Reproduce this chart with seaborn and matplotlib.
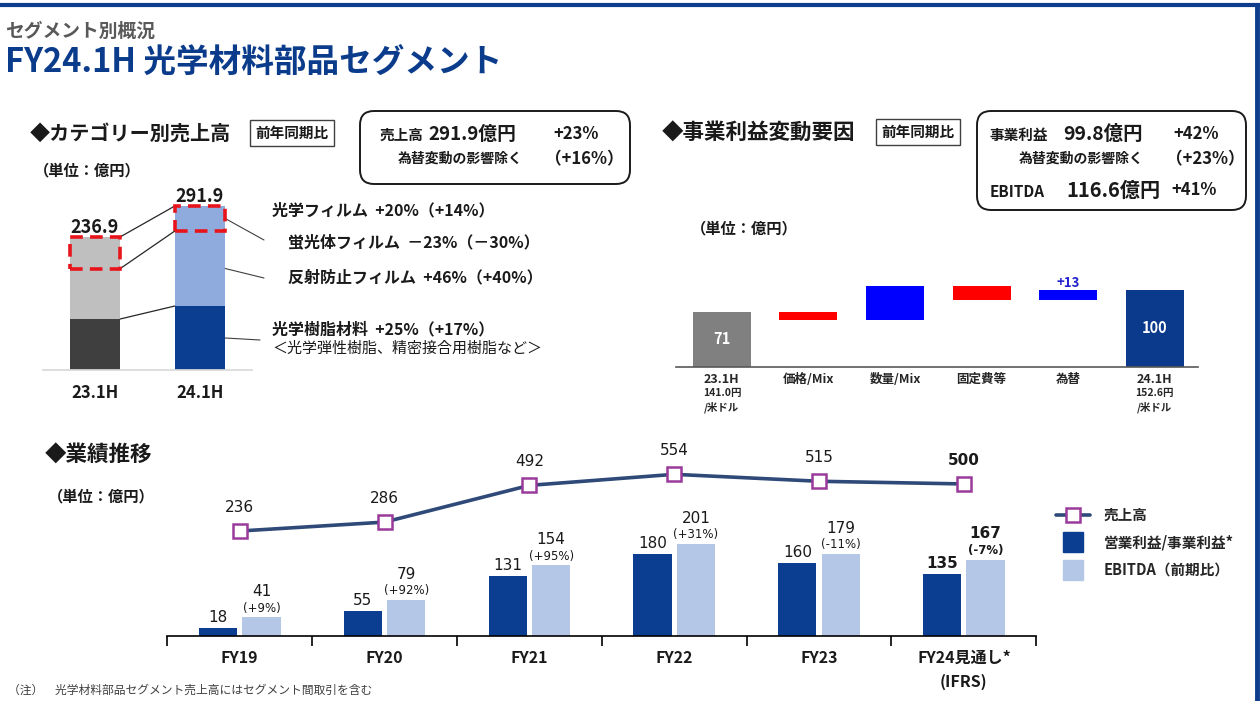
import numpy as np
import pandas as pd
import matplotlib.pyplot as plt
import seaborn as sns
from matplotlib.patches import Rectangle, FancyBboxPatch
from matplotlib.lines import Line2D
from matplotlib.transforms import IdentityTransform

# カテゴリー別売上高
cat_periods = ['23.1H', '24.1H']
cat_total = [236.9, 291.9]
cat_resin = [90.8, 113.9]
cat_phosphor = [56.4, 44.5]

# 事業利益変動要因
wf_labels = ['23.1H', '価格/Mix', '数量/Mix', '固定費等', '為替', '24.1H']
wf_values = [71, -10, 44, -18, 13, 100]
wf_notes = ['141.0円\n/米ドル', '', '', '', '', '152.6円\n/米ドル']

# 業績推移
years = ['FY19', 'FY20', 'FY21', 'FY22', 'FY23', 'FY24見通し*\n(IFRS)']
sales = [236, 286, 492, 554, 515, 500]
op_profit = [18, 55, 131, 180, 160, 135]
ebitda = [41, 79, 154, 201, 179, 167]
ebitda_yoy = ['(+9%)', '(+92%)', '(+95%)', '(+31%)', '(-11%)', '(-7%)']

NAVY = '#0b3d91'
W, H = 1260, 701

sns.set_theme(style='white')
plt.rcParams['font.family'] = ['Noto Sans CJK JP', 'DejaVu Sans']
plt.rcParams['axes.unicode_minus'] = False

fig = plt.figure(figsize=(W / 100, H / 100), dpi=100)


def px_axes(left, top, right, bottom):
    return fig.add_axes([left / W, 1 - bottom / H, (right - left) / W, (bottom - top) / H])


def label(x, y, s, size, weight='bold', color='#1a1a1a', ha='left', **kw):
    return fig.text(x / W, 1 - y / H, s, fontsize=size, fontweight=weight,
                    color=color, ha=ha, va='center', **kw)


def rbox(x0, y0, x1, y1):
    fig.add_artist(FancyBboxPatch((x0, H - y1), x1 - x0, y1 - y0,
                                  boxstyle='round,pad=0,rounding_size=14',
                                  fc='none', ec='#1a1a1a', lw=1.4,
                                  transform=IdentityTransform()))


# ---- page frame / titles
fig.add_artist(Line2D([0, 1], [1 - 5 / H] * 2, color='#0d3d8c', lw=3, transform=fig.transFigure))
fig.add_artist(Line2D([1 - 3 / W] * 2, [0, 1 - 5 / H], color='#0d3d8c', lw=3.5, transform=fig.transFigure))
label(5, 31, 'セグメント別概況', 13.5, color='#595959')
label(5, 63, 'FY24.1H 光学材料部品セグメント', 23.5, color='#0b3c8c')

box_kw = dict(boxstyle='square,pad=0.35', fc='white', ec='#404040', lw=1.0)

# ---- chart 1: stacked bars
label(30, 133, '◆カテゴリー別売上高', 14.5)
label(292, 133, '前年同期比', 10.5, ha='center', bbox=box_kw)
label(34, 170, '（単位：億円）', 11)

rbox(360, 111, 630, 184)
label(380, 135, '売上高', 10.5)
label(428, 134, '291.9億円', 13.5)
label(553, 134, '+23%', 12)
label(398, 159, '為替変動の影響除く', 10)
label(545, 159, '（+16%）', 12)

ax1 = px_axes(42.5, 170, 252.5, 370)
df1 = pd.DataFrame({'pos': [0, 1], 'period': cat_periods,
                    'total': cat_total, 'resin': cat_resin})
sns.barplot(data=df1, x='pos', y='total', hue='period', palette=['#bfbfbf', '#8faadc'],
            width=0.48, native_scale=True, dodge=False, orient='x', saturation=1,
            linewidth=0, legend=False, ax=ax1)
sns.barplot(data=df1, x='pos', y='resin', hue='period', palette=['#3f3f3f', NAVY],
            width=0.48, native_scale=True, dodge=False, orient='x', saturation=1,
            linewidth=0, legend=False, ax=ax1)
ax1.set_xlim(-0.5, 1.5)
ax1.set_ylim(0, 200 / 0.5618)
ax1.set_xticks([0, 1], cat_periods, fontsize=12, fontweight='bold', color='#1a1a1a')
ax1.tick_params(axis='x', length=0, pad=10)
ax1.set_yticks([])
ax1.set_xlabel('')
ax1.set_ylabel('')
sns.despine(ax=ax1, left=True)
ax1.spines['bottom'].set_color('#d9d9d9')

tot = np.array(cat_total)
ph = np.array(cat_phosphor)
res = np.array(cat_resin)
for ys in (tot, tot - ph, res):
    ax1.plot([0.24, 0.76], ys, color='#262626', lw=0.9)
for i in range(2):
    ax1.add_patch(Rectangle((i - 0.24, tot[i] - ph[i]), 0.48, ph[i], fill=False,
                            ec='#e8141c', lw=2.6, ls=(0, (3.5, 2)), zorder=5, clip_on=False))
    ax1.annotate(f'{tot[i]:.1f}', (i, tot[i]), xytext=(0, 7), textcoords='offset points',
                 ha='center', va='center', fontsize=13, fontweight='bold', color='#1a1a1a')

leaders = [(tot[1] - ph[1] / 2, (264, 240)),
           ((res[1] + tot[1] - ph[1]) / 2, (264, 278)),
           (res[1] / 2, (260, 340))]
for yv, (tx, ty) in leaders:
    ax1.annotate('', xy=(1.24, yv), xytext=(tx / W, 1 - ty / H), textcoords='figure fraction',
                 arrowprops=dict(arrowstyle='-', color='#404040', lw=0.8,
                                 shrinkA=0, shrinkB=0), annotation_clip=False)

label(272, 210, '光学フィルム  +20%（+14%）', 11.5)
label(288, 242, '蛍光体フィルム  －23%（－30%）', 11.5)
label(288, 277, '反射防止フィルム  +46%（+40%）', 11.5)
label(272, 329, '光学樹脂材料  +25%（+17%）', 11.5)
label(272, 349, '＜光学弾性樹脂、精密接合用樹脂など＞', 10.8, weight='normal')

# ---- chart 2: waterfall
label(662, 133, '◆事業利益変動要因', 15.5)
label(918, 132, '前年同期比', 10.5, ha='center', bbox=box_kw)
label(691, 228, '（単位：億円）', 11)

rbox(977, 111, 1246, 210)
label(990, 135, '事業利益', 10.5)
label(1063, 134, '99.8億円', 14)
label(1173, 134, '+42%', 12)
label(1019, 159, '為替変動の影響除く', 10)
label(1166, 159, '（+23%）', 12)
label(990, 192, 'EBITDA', 11)
label(1066, 190, '116.6億円', 14.5)
label(1171, 190, '+41%', 12)

ax2 = px_axes(676, 230, 1198, 367)
steps = np.array(wf_values, dtype=float)
bottoms = np.r_[0, np.cumsum(steps[:-1])]
bottoms[-1] = 0
xs = np.arange(len(wf_labels))
colors = ['#808080'] + ['#0000ff' if v > 0 else '#ff0000' for v in steps[1:-1]] + ['#0b3a8c']
ax2.bar(xs, steps, bottom=bottoms, width=0.67, color=colors, linewidth=0)
ax2.set_xlim(-0.53, 5.5)
ax2.set_ylim(0, 137 / 0.775)
ax2.set_xticks(xs, wf_labels, fontsize=9, fontweight='bold', color='#262626')
ax2.tick_params(axis='x', length=0, pad=4)
ax2.set_yticks([])
sns.despine(ax=ax2, left=True)
ax2.spines['bottom'].set_color('#595959')
ax2.spines['bottom'].set_linewidth(1.2)
for i, note in enumerate(wf_notes):
    if note:
        ax2.annotate(note, (i, 0), xytext=(0, -15), textcoords='offset points', ha='center',
                     va='top', fontsize=7.5, fontweight='bold', color='#262626', linespacing=1.4)
for i in (0, len(steps) - 1):
    ax2.text(i, steps[i] / 2, f'{steps[i]:.0f}', ha='center', va='center',
             fontsize=10.5, fontweight='bold', color='white')
ax2.annotate(f'+{steps[4]:.0f}', (4, bottoms[4] + steps[4]), xytext=(0, 5),
             textcoords='offset points', ha='center', va='center', fontsize=9.5,
             fontweight='bold', color='#2323d0')

# ---- chart 3: bars + line
label(45, 455, '◆業績推移', 15.5)
label(48, 496, '（単位：億円）', 11)

ax3 = px_axes(167.3, 440, 1036.3, 636)
n = len(years)
df3 = pd.DataFrame({'pos': list(range(n)) * 2,
                    'value': op_profit + ebitda,
                    'kind': ['営業利益/事業利益*'] * n + ['EBITDA（前期比）'] * n})
sns.barplot(data=df3, x='pos', y='value', hue='kind', palette=[NAVY, '#b4c7e7'],
            width=0.6, gap=0.12, native_scale=True, orient='x', linewidth=0,
            saturation=1, legend=False, ax=ax3)
ax3.set_xlim(-0.5, n - 0.5)
ax3.set_ylim(0, 196 / 0.458)
ax3.set_xticks(range(n), years, fontsize=11.5, fontweight='bold', color='#1a1a1a', linespacing=1.6)
ax3.set_xticks(np.arange(-0.5, n, 1), minor=True)
ax3.tick_params(axis='x', which='major', length=0, pad=10)
ax3.tick_params(axis='x', which='minor', bottom=True, length=7, width=1.2,
                color='black', direction='out')
ax3.set_yticks([])
ax3.set_xlabel('')
ax3.set_ylabel('')
sns.despine(ax=ax3, left=True)
ax3.spines['bottom'].set_color('black')
ax3.spines['bottom'].set_linewidth(1.2)

num_font = ['DejaVu Sans']
for i in range(n):
    wt = 'bold' if i == n - 1 else 'normal'
    ax3.annotate(str(op_profit[i]), (i - 0.15, op_profit[i]), xytext=(0, 7.5),
                 textcoords='offset points', ha='center', va='center', fontsize=11,
                 fontweight=wt, color='#1a1a1a', family=num_font)
    ax3.annotate(ebitda_yoy[i], (i + 0.15, ebitda[i]), xytext=(0, 6.5),
                 textcoords='offset points', ha='center', va='center', fontsize=8.5,
                 fontweight=wt, color='#1a1a1a', family=num_font)
    ax3.annotate(str(ebitda[i]), (i + 0.15, ebitda[i]), xytext=(0, 18.5),
                 textcoords='offset points', ha='center', va='center', fontsize=11,
                 fontweight=wt, color='#1a1a1a', family=num_font)

ax3b = ax3.twinx()
sns.lineplot(x=np.arange(n), y=sales, ax=ax3b, color='#2f4a78', lw=2.6, marker='s',
             markersize=10, markerfacecolor='white', markeredgecolor='#9a3a9a',
             markeredgewidth=1.8)
ax3b.set_ylim(-352.8, 746.5)
ax3b.set_yticks([])
ax3b.set_ylabel('')
for sp in ax3b.spines.values():
    sp.set_visible(False)
for i in range(n):
    wt = 'bold' if i == n - 1 else 'normal'
    ax3b.annotate(str(sales[i]), (i, sales[i]), xytext=(0, 17), textcoords='offset points',
                  ha='center', va='center', fontsize=11, fontweight=wt, color='#1a1a1a',
                  family=num_font)

handles = [Line2D([], [], color='#2f4a78', lw=2.6, marker='s', markersize=10,
                  mfc='white', mec='#9a3a9a', mew=1.8),
           Line2D([], [], ls='none', marker='s', markersize=14, color=NAVY),
           Line2D([], [], ls='none', marker='s', markersize=14, color='#b4c7e7')]
fig.legend(handles, ['売上高', '営業利益/事業利益*', 'EBITDA（前期比）'], loc='upper left',
           bbox_to_anchor=(1056 / W, 1 - 507 / H), frameon=False, borderpad=0,
           borderaxespad=0, handlelength=2.3, handletextpad=0.95, labelspacing=0.78,
           prop={'weight': 'bold', 'size': 10.5})

label(8, 690, '（注）　光学材料部品セグメント売上高にはセグメント間取引を含む', 8.5,
      weight='normal', color='#404040')

fig.savefig('out.png', dpi=100)
